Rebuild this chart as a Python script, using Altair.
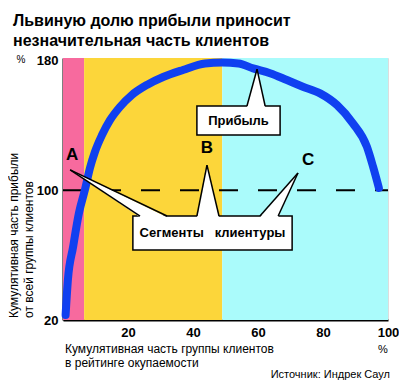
import altair as alt
import pandas as pd

# ---------------- data ----------------
title_lines = ["Львиную долю прибыли приносит", "незначительная часть клиентов"]
y_title_lines = ["Кумулятивная часть прибыли", "от всей группы клиентов"]
x_title_lines = ["Кумулятивная часть группы клиентов", "в рейтинге окупаемости"]
source_text = "Источник: Индрек Саул"
unit_label = "%"

# profit curve (cumulative share of clients %, cumulative profit %)
curve_x = [0.8, 1.5, 3.1, 4.9, 6.8, 8.3, 9.8, 12.0, 14.5, 17.5, 21.2, 25.8, 30.8, 36.9,
           43.7, 49.0, 54.0, 58.5, 63.7, 68.9, 73.8, 79.1, 84.3, 89.2, 93.5, 95.4, 97.2]
curve_y = [23.1, 44.6, 65.0, 85.9, 100.7, 113.7, 123.5, 134.0, 143.3, 151.3, 158.7, 164.9,
           169.8, 174.1, 178.1, 178.7, 178.1, 175.1, 172.1, 167.9, 163.8, 159.7, 152.5,
           141.2, 126.8, 114.5, 101.4]

# client segments (background bands)
band_start = [0.0, 6.5, 49.0]
band_end = [6.5, 49.0, 100.0]
band_color = ["#F76A9E", "#FCD63A", "#AAFBFB"]

x_ticks = [20, 40, 60, 80, 100]
y_ticks = [20, 100, 180]
y_domain = [20, 181.5]
x_domain = [0, 100]
reference_level = 100

# callout boxes
box_text = ["Прибыль", "Сегменты\u00a0\u00a0\u00a0клиентуры"]
box_x1 = [41.2, 21.5]
box_x2 = [66.8, 70.5]
box_top = [151.9, 84.1]
box_bottom = [134.0, 63.1]

# segment letters
letters = ["A", "B", "C"]
letter_x = [2.8, 44.3, 75.4]
letter_y = [121.7, 126.0, 118.6]

# pointer triangles: apex and base on the box top
ptr_apex_x = [59.7, 2.2, 44.3, 72.3]
ptr_apex_y = [174.6, 112.5, 115.5, 110.6]
ptr_base_x1 = [56.6, 23.7, 41.2, 60.6]
ptr_base_x2 = [62.2, 32.0, 48.0, 66.2]
ptr_base_y = [151.9, 84.1, 84.1, 84.1]

# ---------------- tables built from the arrays ----------------
W, H = 325, 262
FONT = "Liberation Sans"

curve_df = pd.DataFrame({"x": curve_x, "y": curve_y})
band_df = pd.DataFrame({"x": band_start, "x2": band_end, "y": [y_domain[1]] * 3,
                        "y2": [y_domain[0]] * 3, "c": band_color})
ref_df = pd.DataFrame({"x": [x_domain[0]], "x2": [x_domain[1]], "y": [reference_level]})
box_df = pd.DataFrame({"x": box_x1, "x2": box_x2, "y": box_top, "y2": box_bottom,
                       "tx": [(a + b) / 2 for a, b in zip(box_x1, box_x2)],
                       "ty": [(a + b) / 2 for a, b in zip(box_top, box_bottom)],
                       "t": box_text})
letter_df = pd.DataFrame({"x": letter_x, "y": letter_y, "t": letters})

# triangle fills as areas (x sorted, y upper edge, y2 lower edge)
fill_rows = []
edge_rows = []
for i in range(len(ptr_apex_x)):
    ax, ay = ptr_apex_x[i], ptr_apex_y[i]
    b1, b2, by = ptr_base_x1[i], ptr_base_x2[i], ptr_base_y[i]
    byf = by - 0.7
    if b1 <= ax <= b2:
        pts = [(b1, byf, byf), (ax, ay, byf), (b2, byf, byf)]
    elif ax < b1:
        mid = ay + (byf - ay) * (b1 - ax) / (b2 - ax)
        pts = [(ax, ay, ay), (b1, mid, byf), (b2, byf, byf)]
    else:
        mid = ay + (byf - ay) * (ax - b2) / (ax - b1)
        pts = [(b1, byf, byf), (b2, mid, byf), (ax, ay, ay)]
    for (px, py, py2) in pts:
        fill_rows.append({"g": i, "x": px, "y": py, "y2": py2})
    edge_rows.append({"g": f"{i}a", "o": 0, "x": ax, "y": ay})
    edge_rows.append({"g": f"{i}a", "o": 1, "x": b1, "y": by})
    edge_rows.append({"g": f"{i}b", "o": 0, "x": ax, "y": ay})
    edge_rows.append({"g": f"{i}b", "o": 1, "x": b2, "y": by})
fill_df = pd.DataFrame(fill_rows)
edge_df = pd.DataFrame(edge_rows)

xscale = alt.Scale(domain=x_domain, nice=False, zero=False)
yscale = alt.Scale(domain=y_domain, nice=False, zero=False)
xaxis = alt.Axis(values=x_ticks, title=None, grid=False, ticks=False, tickSize=0,
                 labelFont=FONT, labelFontWeight="bold", labelFontSize=13,
                 labelColor="black", labelPadding=6, labelFlush=False,
                 domainColor="black", domainWidth=2)
yaxis = alt.Axis(values=y_ticks, title=None, grid=False, ticks=False, tickSize=0,
                 labelFont=FONT, labelFontWeight="bold", labelFontSize=13,
                 labelColor="black", labelPadding=5, labelBaseline="middle",
                 domainColor="black", domainWidth=2)


def X(f="x"):
    return alt.X(f"{f}:Q", scale=xscale, axis=xaxis)


def Y(f="y"):
    return alt.Y(f"{f}:Q", scale=yscale, axis=yaxis)


bands = alt.Chart(band_df).mark_rect().encode(
    x=X(), x2="x2", y=Y(), y2="y2", color=alt.Color("c:N", scale=None))

ref_line = alt.Chart(ref_df).mark_rule(color="black", strokeWidth=2, strokeDash=[19, 20]).encode(
    x=X(), x2="x2", y=Y())

curve = alt.Chart(curve_df).mark_line(color="#1040F0", strokeWidth=8, strokeCap="round",
                                       strokeJoin="round", interpolate="monotone").encode(
    x=X(), y=Y())

boxes = alt.Chart(box_df).mark_rect(fill="white", stroke="black", strokeWidth=1.5).encode(
    x=X(), x2="x2", y=Y(), y2="y2")

fills = alt.Chart(fill_df).mark_area(color="white", opacity=1).encode(
    x=X(), y=Y(), y2="y2", detail="g:N")

edges = alt.Chart(edge_df).mark_line(color="black", strokeWidth=1.5).encode(
    x=X(), y=Y(), detail="g:N", order="o:Q")

box_labels = alt.Chart(box_df).mark_text(font=FONT, fontWeight="bold", fontSize=13,
                                         color="black", baseline="middle").encode(
    x=X("tx"), y=Y("ty"), text="t:N")

letter_marks = alt.Chart(letter_df).mark_text(font=FONT, fontWeight="bold", fontSize=17,
                                              color="black", baseline="middle").encode(
    x=X(), y=Y(), text="t:N")


def label(text, px, py, **kw):
    return alt.Chart(pd.DataFrame({"t": [text]})).mark_text(font=FONT, color="black", **kw).encode(
        x=alt.value(px), y=alt.value(py), text="t:N")


texts = [
    label(title_lines[0], -50, -32, fontSize=16, fontWeight="bold", align="left", baseline="alphabetic"),
    label(title_lines[1], -50, -12, fontSize=16, fontWeight="bold", align="left", baseline="alphabetic"),
    label(y_title_lines[0], -45, 260, fontSize=12, angle=270, align="left", baseline="alphabetic"),
    label(y_title_lines[1], -30, 260, fontSize=12, angle=270, align="left", baseline="alphabetic"),
    label(x_title_lines[0], 2, 295, fontSize=12, align="left", baseline="alphabetic"),
    label(x_title_lines[1], 2, 309, fontSize=12, align="left", baseline="alphabetic"),
    label(unit_label, 320, 295, fontSize=11, align="center", baseline="alphabetic"),
    label(unit_label, -42, 2, fontSize=10, align="center", baseline="middle"),
    label(source_text, 327, 320, fontSize=11, align="right", baseline="alphabetic"),
]

chart = alt.layer(bands, ref_line, curve, boxes, fills, edges, box_labels, letter_marks, *texts).properties(
    width=W, height=H,
    autosize=alt.AutoSizeParams(type="none"),
    padding={"left": 55, "top": 50, "right": 11, "bottom": 60},
).configure_view(stroke=None).configure(background="white")

chart.save("out.html", embed_options={"renderer": "svg", "actions": False})
